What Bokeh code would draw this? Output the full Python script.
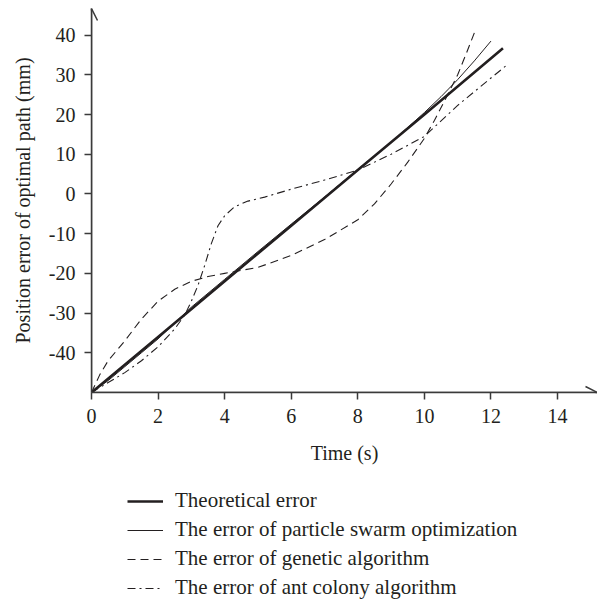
from bokeh.plotting import figure
from bokeh.layouts import column
from bokeh.models import Range1d, FixedTicker, Legend, LegendItem, Arrow, OpenHead
from bokeh.embed import file_html
from bokeh.resources import INLINE

# ---- data ----
theo_t = [0, 2, 4, 6, 8, 10, 12.36]
theo_v = [-50, -36, -22, -8, 6, 20, 36.7]

pso_t = [0, 0.5, 1, 1.5, 2, 2.5, 3, 4, 5, 6, 7, 8, 9, 10, 10.5, 11, 11.5, 12]
pso_v = [-50, -47, -43.5, -40, -36.5, -32.5, -28.5, -21.5, -14.5, -7.6, -0.8, 6.2, 13, 20.5, 24.5, 28.8, 33.5, 38.5]

ga_t = [0, 0.25, 0.5, 1, 1.5, 2, 2.5, 3, 3.5, 4, 5, 6, 7, 8, 8.5, 9, 9.5, 10, 10.3, 10.7, 11, 11.25, 11.53]
ga_v = [-50, -45.5, -42, -37, -31.5, -27, -24, -22, -20.8, -20, -18.5, -15.5, -11.5, -6.5, -2.5, 2.5, 8, 14, 18.5, 25, 30, 35.2, 41.2]

aco_t = [0, 0.5, 1, 1.5, 2, 2.5, 2.8, 3.0, 3.2, 3.4, 3.6, 3.8, 4.0, 4.3, 4.7, 5.2, 6, 7, 8, 9, 10, 11, 12, 12.5]
aco_v = [-50, -47.5, -45, -42, -38.5, -34, -30.5, -27, -23, -18, -12.5, -8, -5.5, -3.2, -1.8, -0.8, 1.2, 3.5, 6, 10, 14.5, 22.3, 29.2, 32.6]

x_ticks = [0, 2, 4, 6, 8, 10, 12, 14]
y_ticks = [-40, -30, -20, -10, 0, 10, 20, 30, 40]
y_tick_labels = ["-40", "-30", "-20", "-10", "0", "10", "20", "30", "40"]

labels = ["Theoretical error",
          "The error of particle swarm optimization",
          "The error of genetic algorithm",
          "The error of ant colony algorithm"]

x_label = "Time (s)"
y_label = "Position error of optimal path (mm)"

FONT = "Liberation Serif"
INK = "#231f20"
AX = "#3a3a3a"

styles = [dict(line_width=2.6, line_color=INK),
          dict(line_width=1.0, line_color=INK),
          dict(line_width=1.1, line_color=INK, line_dash="8 5"),
          dict(line_width=1.1, line_color=INK, line_dash="8 4 2 4")]
series = [(theo_t, theo_v), (pso_t, pso_v), (ga_t, ga_v), (aco_t, aco_v)]

p = figure(frame_width=506, frame_height=384,
           x_range=Range1d(0, 15.2), y_range=Range1d(-50, 46.7),
           output_backend="svg", toolbar_location=None,
           min_border_left=91, min_border_right=0, min_border_top=8,
           min_border_bottom=90)
p.background_fill_color = "white"
p.border_fill_color = "white"
p.outline_line_color = None
p.grid.visible = False

for (t, v), st in zip(series, styles):
    p.line(t, v, **st)

for ax in (p.xaxis[0], p.yaxis[0]):
    ax.axis_line_color = AX
    ax.axis_line_width = 1.5
    ax.major_tick_line_color = AX
    ax.major_tick_line_width = 1.5
    ax.major_tick_in = 0
    ax.major_tick_out = 7
    ax.minor_tick_line_color = None
    ax.major_label_text_font = FONT
    ax.major_label_text_font_size = "20px"
    ax.major_label_text_color = INK
    ax.axis_label_text_font = FONT
    ax.axis_label_text_font_size = "20px"
    ax.axis_label_text_font_style = "normal"
    ax.axis_label_text_color = INK

p.xaxis[0].ticker = FixedTicker(ticks=x_ticks)
p.yaxis[0].ticker = FixedTicker(ticks=y_ticks)
p.yaxis[0].major_label_overrides = {t: s for t, s in zip(y_ticks, y_tick_labels)}
p.xaxis[0].axis_label = x_label
p.yaxis[0].axis_label = y_label
p.xaxis[0].major_label_standoff = 9
p.yaxis[0].major_label_standoff = 9
p.xaxis[0].axis_label_standoff = 16
p.yaxis[0].axis_label_standoff = 12

# axis arrow heads
p.add_layout(Arrow(end=OpenHead(size=12, line_color=AX, line_width=1.5),
                   x_start=0, y_start=-50, x_end=0, y_end=46.7,
                   line_color=AX, line_width=1.5))
p.add_layout(Arrow(end=OpenHead(size=12, line_color=AX, line_width=1.5),
                   x_start=0, y_start=-50, x_end=15.2, y_end=-50,
                   line_color=AX, line_width=1.5))

# legend panel underneath: a second figure whose ranges keep its copies of the
# series out of view, so that only the legend shows
pl = figure(width=597, height=120, x_range=Range1d(100, 101), y_range=Range1d(100, 101),
            x_axis_location=None, y_axis_location=None,
            output_backend="svg", toolbar_location=None, min_border=0)
pl.outline_line_color = None
pl.grid.visible = False
pl.background_fill_color = "white"
pl.border_fill_color = "white"
leg_r = [pl.line(t, v, **st) for (t, v), st in zip(series, styles)]

legend = Legend(items=[LegendItem(label=l, renderers=[r]) for l, r in zip(labels, leg_r)],
                location=(36, 2), orientation="vertical",
                border_line_alpha=0, background_fill_alpha=0,
                padding=0, margin=0, spacing=4,
                glyph_width=36, glyph_height=24, label_height=24,
                label_standoff=12, label_text_font=FONT,
                label_text_font_size="21px", label_text_color=INK)
pl.add_layout(legend, "center")

open("out.html", "w").write(file_html(column(p, pl, spacing=0), INLINE))
